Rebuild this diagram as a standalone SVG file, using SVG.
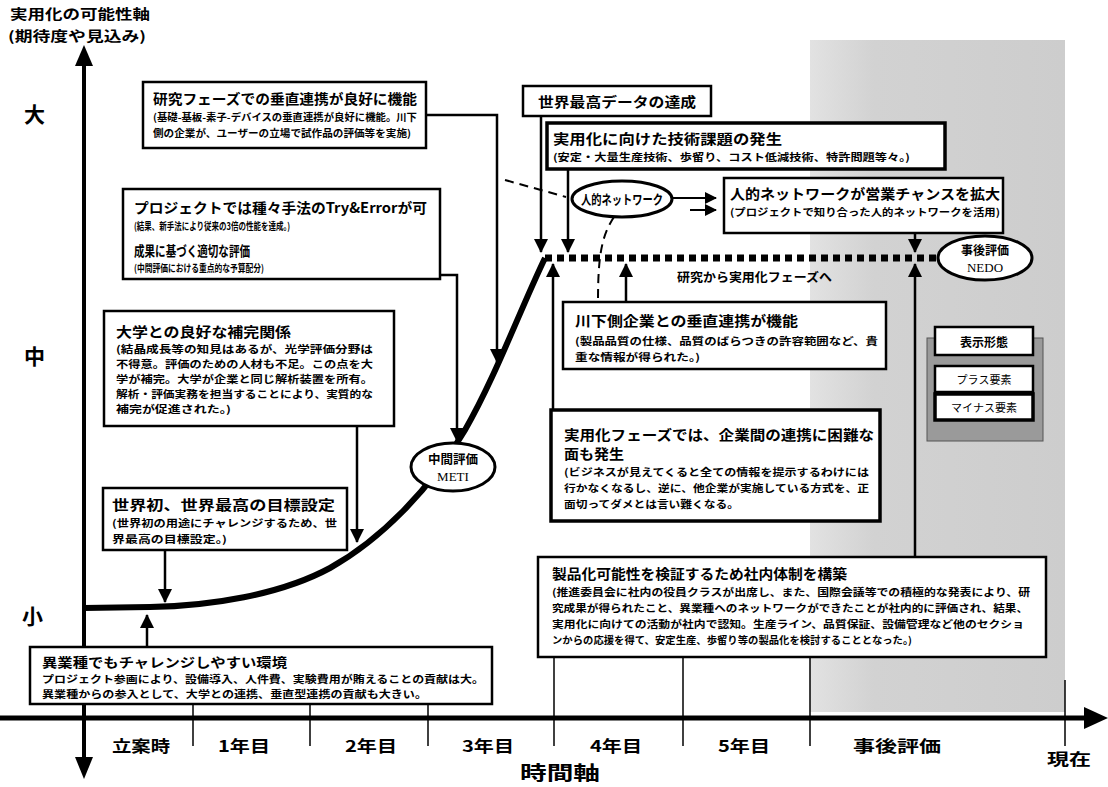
<svg xmlns="http://www.w3.org/2000/svg" width="1108" height="787" viewBox="0 0 1108 787">
<defs>
<marker id="ah" markerUnits="userSpaceOnUse" markerWidth="14" markerHeight="14" refX="13" refY="7" orient="auto"><path d="M0,0 L14,7 L0,14 z" fill="#000"/></marker>
<marker id="ahs" markerUnits="userSpaceOnUse" markerWidth="12" markerHeight="12" refX="11" refY="6" orient="auto"><path d="M0,0 L12,6 L0,12 z" fill="#000"/></marker>
<linearGradient id="shade" x1="0" y1="0" x2="1" y2="0"><stop offset="0" stop-color="#e2e2e2"/><stop offset="0.25" stop-color="#d2d2d2"/><stop offset="1" stop-color="#cdcdcd"/></linearGradient>
<style>
text{font-family:"Noto Sans CJK JP","Noto Sans CJK SC",sans-serif;font-weight:700;fill:#000}
.box{fill:#fff;stroke:#000;stroke-width:2.5}
.boxm{fill:#fff;stroke:#000;stroke-width:3.5}
.t{font-size:14px}
.s{font-size:10px}
.ax{font-size:16px}
.con{fill:none;stroke:#000;stroke-width:2.5;marker-end:url(#ah)}
.dash{fill:none;stroke:#000;stroke-width:2;stroke-dasharray:9,6}
.tick{stroke:#000;stroke-width:1.5}
.ell{fill:#fff;stroke:#000;stroke-width:3}
</style>
</defs>
<rect width="1108" height="787" fill="#fff"/>
<rect x="810" y="40" width="255" height="672" fill="url(#shade)"/>

<g id="axes">
<text x="10" y="19" style="font-size:13.5px" textLength="140" lengthAdjust="spacingAndGlyphs">実用化の可能性軸</text>
<text x="8" y="41" style="font-size:13.5px" textLength="138" lengthAdjust="spacingAndGlyphs">(期待度や見込み)</text>
<text x="24" y="122" style="font-size:21px">大</text>
<text x="24" y="364" style="font-size:21px">中</text>
<text x="22" y="624" style="font-size:21px">小</text>
<line x1="84" y1="64" x2="84" y2="758" stroke="#000" stroke-width="4"/>
<path d="M84,45 L75,66 L93,66 z" fill="#000"/>
<path d="M84,779 L75,757 L93,757 z" fill="#000"/>
<line x1="0" y1="718" x2="1088" y2="718" stroke="#000" stroke-width="5"/>
<path d="M1108,718 L1084,707 L1084,729 z" fill="#000"/>
<line class="tick" x1="193" y1="705" x2="193" y2="746"/>
<line class="tick" x1="310" y1="705" x2="310" y2="746"/>
<line class="tick" x1="428" y1="705" x2="428" y2="746"/>
<line class="tick" x1="554" y1="657" x2="554" y2="746"/>
<line class="tick" x1="683" y1="657" x2="683" y2="746"/>
<line class="tick" x1="810" y1="657" x2="810" y2="746"/>
<line class="tick" x1="1065" y1="680" x2="1065" y2="746"/>
<text class="ax" x="112" y="752" textLength="58" lengthAdjust="spacingAndGlyphs">立案時</text>
<text class="ax" x="218" y="752" textLength="52" lengthAdjust="spacingAndGlyphs">1年目</text>
<text class="ax" x="345" y="752" textLength="52" lengthAdjust="spacingAndGlyphs">2年目</text>
<text class="ax" x="462" y="752" textLength="52" lengthAdjust="spacingAndGlyphs">3年目</text>
<text class="ax" x="590" y="752" textLength="52" lengthAdjust="spacingAndGlyphs">4年目</text>
<text class="ax" x="718" y="752" textLength="52" lengthAdjust="spacingAndGlyphs">5年目</text>
<text class="ax" x="853" y="752" textLength="88" lengthAdjust="spacingAndGlyphs">事後評価</text>
<text class="ax" x="1047" y="765" textLength="44" lengthAdjust="spacingAndGlyphs">現在</text>
<text x="520" y="780" style="font-size:19px" textLength="80" lengthAdjust="spacingAndGlyphs">時間軸</text>
</g>

<g id="curve">
<path d="M84,608 L150,607 C210,606 280,595 330,568 C380,540 430,490 465,430 C495,378 520,310 545,258" fill="none" stroke="#000" stroke-width="6"/>
<line x1="545" y1="258" x2="942" y2="258" stroke="#000" stroke-width="7" stroke-dasharray="7,5"/>
<text x="677" y="282" style="font-size:12.5px" textLength="155" lengthAdjust="spacingAndGlyphs">研究から実用化フェーズへ</text>
</g>

<g id="connectors">
<path class="con" d="M426,115 H497 V362"/>
<path class="con" d="M440,275 H457 V441"/>
<path class="con" d="M357,426 V542"/>
<path class="con" d="M165,551 V602"/>
<path class="con" d="M147,647 V615"/>
<path class="con" d="M541,117 V252"/>
<path class="con" d="M568,170 V252"/>
<path class="con" d="M915,234 V252"/>
<path class="con" d="M626,302 V264"/>
<path class="con" d="M553,410 V264"/>
<path class="con" d="M915,557 V264"/>
<path class="dash" d="M505,180 L566,197"/>
<path class="dash" d="M614,217 C602,235 598,255 598,300"/>
<path d="M673,198 H686" stroke="#000" stroke-width="2" fill="none"/>
<path d="M686,198 H716" stroke="#000" stroke-width="2" fill="none" marker-end="url(#ahs)"/>
<path d="M690,210 H716" stroke="#000" stroke-width="2" fill="none" marker-end="url(#ahs)"/>
</g>

<g id="boxA">
<rect class="box" x="143" y="82" width="283" height="66"/>
<text class="t" x="153" y="104" textLength="264" lengthAdjust="spacingAndGlyphs">研究フェーズでの垂直連携が良好に機能</text>
<text class="s" x="153" y="121" textLength="264" lengthAdjust="spacingAndGlyphs">(基礎-基板-素子-デバイスの垂直連携が良好に機能。川下</text>
<text class="s" x="153" y="137" textLength="258" lengthAdjust="spacingAndGlyphs">側の企業が、ユーザーの立場で試作品の評価等を実施)</text>
</g>

<g id="boxB">
<rect class="box" x="123" y="189" width="317" height="90"/>
<text class="t" x="134" y="213" textLength="293" lengthAdjust="spacingAndGlyphs">プロジェクトでは種々手法のTry&amp;Errorが可</text>
<text class="s" x="134" y="230" textLength="156" lengthAdjust="spacingAndGlyphs">(結果、新手法により従来の3倍の性能を達成。)</text>
<text class="t" x="134" y="256" textLength="116" lengthAdjust="spacingAndGlyphs">成果に基づく適切な評価</text>
<text class="s" x="134" y="272" textLength="130" lengthAdjust="spacingAndGlyphs">(中間評価における重点的な予算配分)</text>
</g>

<g id="boxC">
<rect class="box" x="104" y="311" width="290" height="115"/>
<text class="t" x="116" y="337" textLength="175" lengthAdjust="spacingAndGlyphs">大学との良好な補完関係</text>
<text class="s" x="116" y="353" textLength="257" lengthAdjust="spacingAndGlyphs">(結晶成長等の知見はあるが、光学評価分野は</text>
<text class="s" x="116" y="368" textLength="257" lengthAdjust="spacingAndGlyphs">不得意。評価のための人材も不足。この点を大</text>
<text class="s" x="116" y="383" textLength="257" lengthAdjust="spacingAndGlyphs">学が補完。大学が企業と同じ解析装置を所有。</text>
<text class="s" x="116" y="398" textLength="257" lengthAdjust="spacingAndGlyphs">解析・評価実務を担当することにより、実質的な</text>
<text class="s" x="116" y="413" textLength="115" lengthAdjust="spacingAndGlyphs">補完が促進された。)</text>
</g>

<g id="boxD">
<rect class="box" x="103" y="488" width="244" height="62"/>
<text class="t" x="112" y="510" textLength="223" lengthAdjust="spacingAndGlyphs">世界初、世界最高の目標設定</text>
<text class="s" x="112" y="527" textLength="225" lengthAdjust="spacingAndGlyphs">(世界初の用途にチャレンジするため、世</text>
<text class="s" x="112" y="543" textLength="115" lengthAdjust="spacingAndGlyphs">界最高の目標設定。)</text>
</g>

<g id="boxE">
<rect class="box" x="30" y="647" width="462" height="57"/>
<text style="font-size:13px" x="42" y="667" textLength="245" lengthAdjust="spacingAndGlyphs">異業種でもチャレンジしやすい環境</text>
<text class="s" x="42" y="683" textLength="442" lengthAdjust="spacingAndGlyphs">プロジェクト参画により、設備導入、人件費、実験費用が賄えることの貢献は大。</text>
<text class="s" x="42" y="698" textLength="385" lengthAdjust="spacingAndGlyphs">異業種からの参入として、大学との連携、垂直型連携の貢献も大きい。</text>
</g>

<g id="boxF">
<rect class="box" x="523" y="86" width="188" height="30"/>
<text class="t" x="538" y="107" textLength="158" lengthAdjust="spacingAndGlyphs">世界最高データの達成</text>
</g>

<g id="boxG">
<rect class="boxm" x="547" y="123" width="398" height="46"/>
<text class="t" x="553" y="144" textLength="229" lengthAdjust="spacingAndGlyphs">実用化に向けた技術課題の発生</text>
<text class="s" x="553" y="161" textLength="357" lengthAdjust="spacingAndGlyphs">(安定・大量生産技術、歩留り、コスト低減技術、特許問題等々。)</text>
</g>

<g id="network">
<ellipse class="ell" cx="622" cy="199" rx="50" ry="18"/>
<text x="581" y="204" style="font-size:13px" textLength="82" lengthAdjust="spacingAndGlyphs">人的ネットワーク</text>
</g>

<g id="boxH">
<rect class="box" x="724" y="178" width="279" height="55"/>
<text class="t" x="730" y="199" textLength="270" lengthAdjust="spacingAndGlyphs">人的ネットワークが営業チャンスを拡大</text>
<text class="s" x="730" y="216" textLength="270" lengthAdjust="spacingAndGlyphs">(プロジェクトで知り合った人的ネットワークを活用)</text>
</g>

<g id="nedo">
<ellipse class="ell" cx="985" cy="258" rx="47" ry="22"/>
<text x="961" y="255" style="font-size:12.5px" textLength="48" lengthAdjust="spacingAndGlyphs">事後評価</text>
<text x="985" y="272" style="font-size:13px;font-family:'Liberation Serif',serif;font-weight:400" text-anchor="middle">NEDO</text>
</g>

<g id="meti">
<ellipse class="ell" cx="453" cy="467" rx="42" ry="24"/>
<text x="428" y="464" style="font-size:12.5px" textLength="50" lengthAdjust="spacingAndGlyphs">中間評価</text>
<text x="453" y="481" style="font-size:13px;font-family:'Liberation Serif',serif;font-weight:400" text-anchor="middle">METI</text>
</g>

<g id="boxI">
<rect class="box" x="563" y="302" width="323" height="67"/>
<text class="t" x="575" y="326" textLength="223" lengthAdjust="spacingAndGlyphs">川下側企業との垂直連携が機能</text>
<text class="s" x="575" y="345" textLength="303" lengthAdjust="spacingAndGlyphs">(製品品質の仕様、品質のばらつきの許容範囲など、貴</text>
<text class="s" x="575" y="361" textLength="125" lengthAdjust="spacingAndGlyphs">重な情報が得られた。)</text>
</g>

<g id="boxJ">
<rect class="boxm" x="551" y="410" width="329" height="111"/>
<text class="t" x="564" y="440" textLength="310" lengthAdjust="spacingAndGlyphs">実用化フェーズでは、企業間の連携に困難な</text>
<text class="t" x="564" y="459" textLength="60" lengthAdjust="spacingAndGlyphs">面も発生</text>
<text class="s" x="564" y="476" textLength="305" lengthAdjust="spacingAndGlyphs">(ビジネスが見えてくると全ての情報を提示するわけには</text>
<text class="s" x="564" y="492" textLength="305" lengthAdjust="spacingAndGlyphs">行かなくなるし、逆に、他企業が実施している方式を、正</text>
<text class="s" x="564" y="508" textLength="175" lengthAdjust="spacingAndGlyphs">面切ってダメとは言い難くなる。</text>
</g>

<g id="boxK">
<rect class="box" x="538" y="557" width="508" height="100"/>
<text class="t" x="552" y="579" textLength="295" lengthAdjust="spacingAndGlyphs">製品化可能性を検証するため社内体制を構築</text>
<text class="s" x="552" y="596" textLength="478" lengthAdjust="spacingAndGlyphs">(推進委員会に社内の役員クラスが出席し、また、国際会議等での積極的な発表により、研</text>
<text class="s" x="552" y="612" textLength="476" lengthAdjust="spacingAndGlyphs">究成果が得られたこと、異業種へのネットワークができたことが社内的に評価され、結果、</text>
<text class="s" x="552" y="628" textLength="472" lengthAdjust="spacingAndGlyphs">実用化に向けての活動が社内で認知。生産ライン、品質保証、設備管理など他のセクショ</text>
<text class="s" x="552" y="644" textLength="360" lengthAdjust="spacingAndGlyphs">ンからの応援を得て、安定生産、歩留り等の製品化を検討することとなった。)</text>
</g>

<g id="legend">
<rect x="927" y="338" width="116" height="103" fill="#9a9a9a" stroke="#555" stroke-width="1"/>
<rect class="box" x="935" y="327" width="98" height="28"/>
<text x="984" y="347" style="font-size:12px" text-anchor="middle">表示形態</text>
<rect class="box" x="935" y="366" width="98" height="26"/>
<text x="984" y="384" style="font-size:11px;font-weight:400" text-anchor="middle">プラス要素</text>
<rect class="boxm" x="935" y="394" width="98" height="26"/>
<text x="984" y="412" style="font-size:11px;font-weight:400" text-anchor="middle">マイナス要素</text>
</g>
</svg>
